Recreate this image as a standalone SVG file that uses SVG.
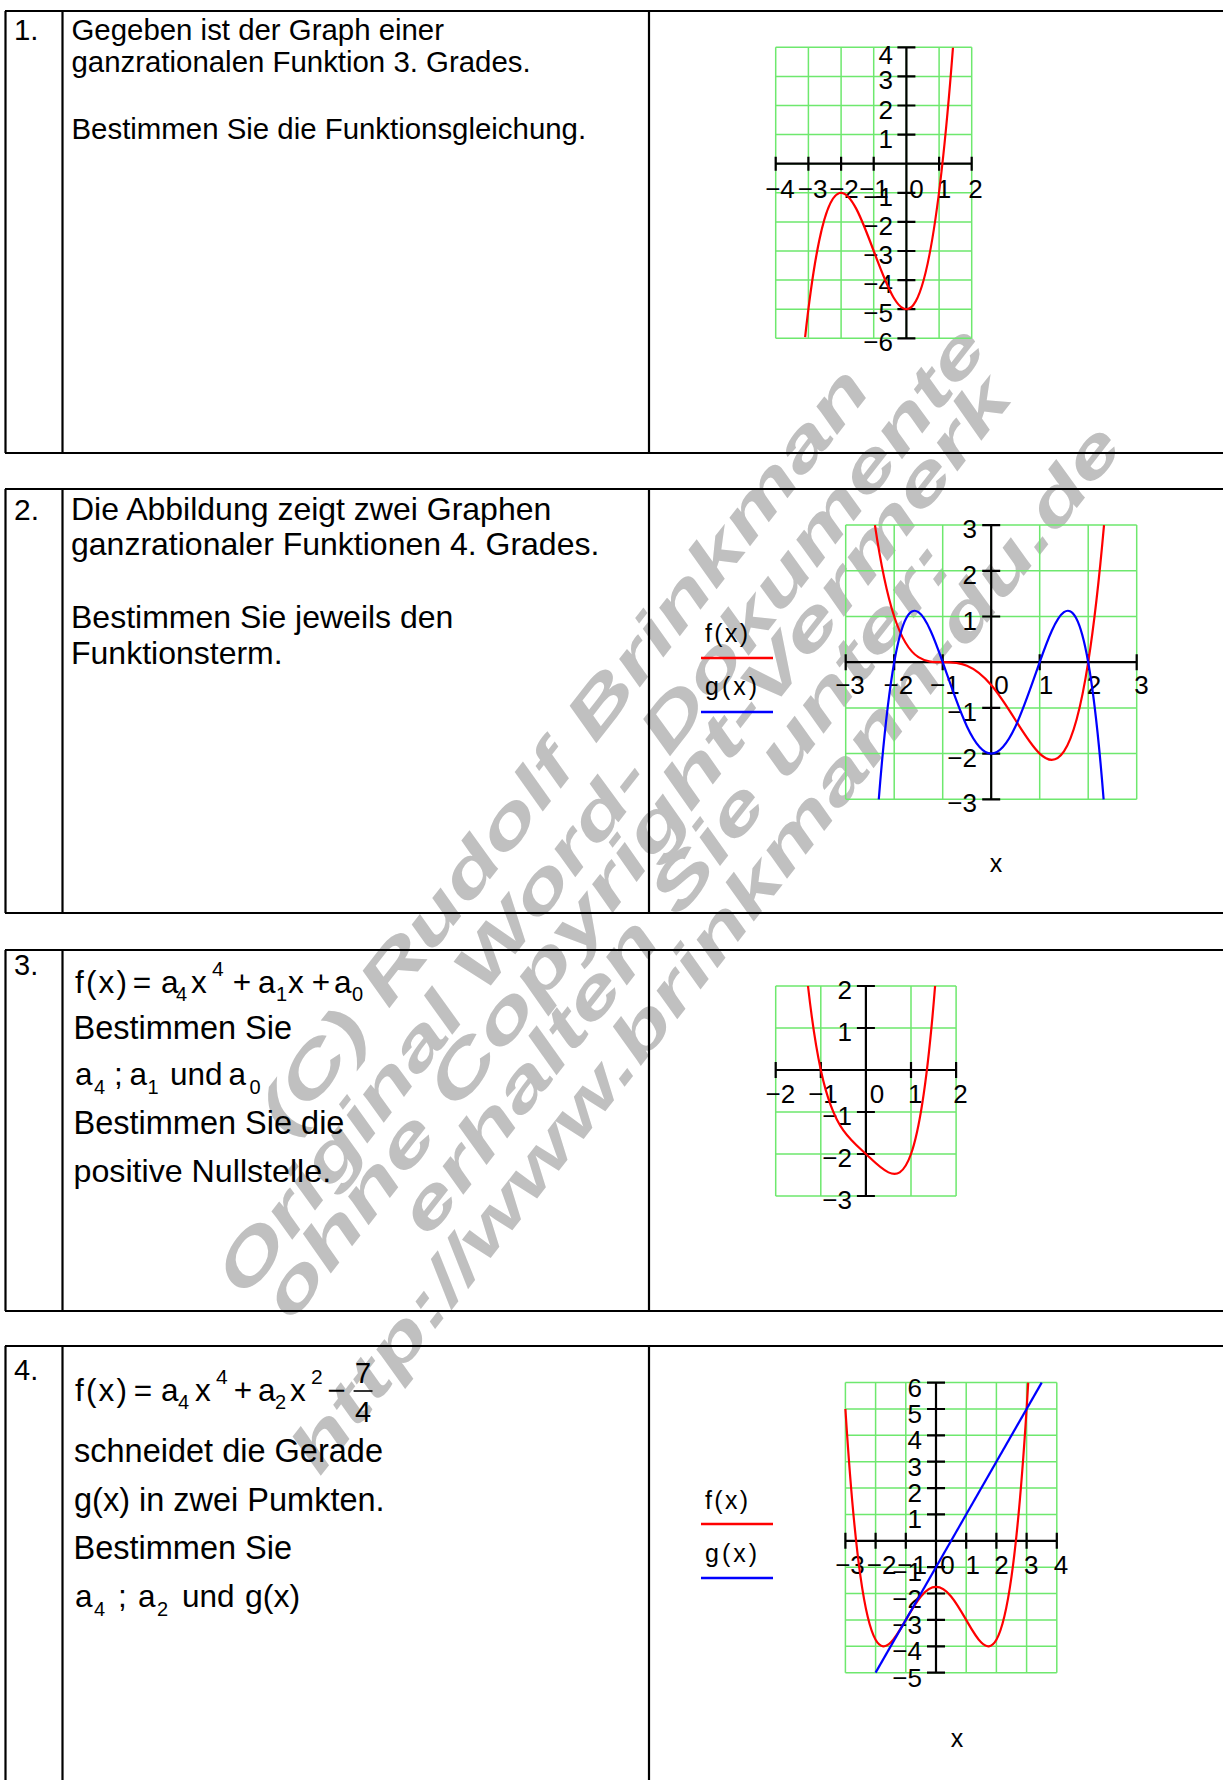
<svg xmlns="http://www.w3.org/2000/svg" width="1223" height="1780" viewBox="0 0 1223 1780">
<style>
.tx{font-family:'Liberation Sans',Arial,sans-serif;fill:#000}
.lb{font-family:'Liberation Sans',Arial,sans-serif;font-size:26px;fill:#000}
.ym{text-anchor:end}
.xm{text-anchor:middle}
.grid{fill:none;stroke:#6ee86e;stroke-width:1.5}
.axis{fill:none;stroke:#000;stroke-width:2.2}
.cr{fill:none;stroke:#f00;stroke-width:2.2;vector-effect:non-scaling-stroke}
.cb{fill:none;stroke:#00f;stroke-width:2.2;vector-effect:non-scaling-stroke}
.tbl{fill:none;stroke:#000;stroke-width:2.2}
.wm{font-family:'Liberation Sans',Arial,sans-serif;font-weight:bold;font-style:italic;font-size:64px;fill:#c0c0c0;text-anchor:middle}
</style>
<rect width="1223" height="1780" fill="#fff"/>

<g id="watermark" class="wm">
<text transform="translate(563 750) rotate(-52)" y="22" textLength="950" lengthAdjust="spacingAndGlyphs">(C) Rudolf Brinkman</text>
<text transform="translate(600 810) rotate(-52)" y="22" textLength="1208" lengthAdjust="spacingAndGlyphs">Original Word- Dokumente</text>
<text transform="translate(636 847) rotate(-52)" y="22" textLength="1174" lengthAdjust="spacingAndGlyphs">ohne Copyright-Vermerk</text>
<text transform="translate(675 888) rotate(-52)" y="22" textLength="856" lengthAdjust="spacingAndGlyphs">erhalten Sie unter:</text>
<text transform="translate(705 948) rotate(-52)" y="22" textLength="1308" lengthAdjust="spacingAndGlyphs">http://www.brinkmann-du.de</text>
</g>

<g id="table" class="tbl">
<path d="M5 11H1223M5 453H1223M5.5 11V453M62.5 11V453M649 11V453"/>
<path d="M5 489H1223M5 913H1223M5.5 489V913M62.5 489V913M649 489V913"/>
<path d="M5 950H1223M5 1311H1223M5.5 950V1311M62.5 950V1311M649 950V1311"/>
<path d="M5 1346H1223M5.5 1346V1780M62.5 1346V1780M649 1346V1780"/>
</g>

<g id="row1" class="tx" font-size="29.4">
<text x="14" y="40">1.</text>
<text x="71.5" y="40">Gegeben ist der Graph einer</text>
<text x="71.5" y="72">ganzrationalen Funktion 3. Grades.</text>
<text x="71.5" y="139">Bestimmen Sie die Funktionsgleichung.</text>
</g>

<g id="row2" class="tx" font-size="32">
<text x="14" y="520" font-size="30">2.</text>
<text x="71" y="520">Die Abbildung zeigt zwei Graphen</text>
<text x="71" y="555">ganzrationaler Funktionen 4. Grades.</text>
<text x="71" y="628">Bestimmen Sie jeweils den</text>
<text x="71" y="664">Funktionsterm.</text>
</g>

<g id="row3" class="tx" font-size="31.5">
<text x="14" y="975" font-size="29">3.</text>
<text x="75" y="993" textLength="52">f(x)</text>
<text x="142" y="993" class="xm">=</text>
<text x="161" y="993">a</text>
<text x="176" y="1001" font-size="20">4</text>
<text x="191" y="993">x</text>
<text x="212" y="976" font-size="21">4</text>
<text x="242" y="993" class="xm">+</text>
<text x="258" y="993">a</text>
<text x="276" y="1001" font-size="20">1</text>
<text x="288" y="993">x</text>
<text x="321" y="993" class="xm">+</text>
<text x="334" y="993">a</text>
<text x="352" y="1001" font-size="20">0</text>
<text x="73.5" y="1038.5" font-size="32.5">Bestimmen Sie</text>
<text x="75" y="1085">a</text>
<text x="94" y="1094" font-size="20">4</text>
<text x="114" y="1085">;</text>
<text x="129.5" y="1085">a</text>
<text x="147.5" y="1094" font-size="20">1</text>
<text x="170" y="1085">und</text>
<text x="228.5" y="1085">a</text>
<text x="249.5" y="1094" font-size="20">0</text>
<text x="73.5" y="1133.5" font-size="32.5">Bestimmen Sie die</text>
<text x="73.5" y="1181.5" font-size="32.2">positive Nullstelle.</text>
</g>

<g id="row4" class="tx" font-size="31.5">
<text x="14" y="1380" font-size="29">4.</text>
<text x="75" y="1401" textLength="52">f(x)</text>
<text x="143" y="1401" class="xm">=</text>
<text x="161" y="1401">a</text>
<text x="178" y="1409" font-size="20">4</text>
<text x="195" y="1401">x</text>
<text x="216" y="1384" font-size="21">4</text>
<text x="243" y="1401" class="xm">+</text>
<text x="258" y="1401">a</text>
<text x="275" y="1409" font-size="20">2</text>
<text x="290" y="1401">x</text>
<text x="311" y="1384" font-size="21">2</text>
<text x="336.5" y="1401" class="xm">−</text>
<path d="M353.6 1391H372.5" stroke="#000" stroke-width="1.6"/>
<text x="363" y="1383" class="xm" font-size="29">7</text>
<text x="363" y="1422" class="xm" font-size="29">4</text>
<text x="74" y="1462" font-size="32.5">schneidet die Gerade</text>
<text x="74" y="1510.5" font-size="32.5">g(x) in zwei Pumkten.</text>
<text x="73.5" y="1559" font-size="32.5">Bestimmen Sie</text>
<text x="75" y="1607">a</text>
<text x="94" y="1616" font-size="20">4</text>
<text x="118" y="1607">;</text>
<text x="138" y="1607">a</text>
<text x="157" y="1616" font-size="20">2</text>
<text x="182" y="1607">und</text>
<text x="245" y="1607" font-size="32">g(x)</text>
</g>

<g id="plot1">
<path class="grid" d="M775.7 47.3V338.3M808.4 47.3V338.3M841.1 47.3V338.3M873.7 47.3V338.3M906.4 47.3V338.3M939.1 47.3V338.3M971.7 47.3V338.3M775.7 47.3H971.7M775.7 76.4H971.7M775.7 105.5H971.7M775.7 134.6H971.7M775.7 163.7H971.7M775.7 192.8H971.7M775.7 221.9H971.7M775.7 251H971.7M775.7 280.1H971.7M775.7 309.2H971.7M775.7 338.3H971.7"/>
<path class="axis" d="M775.7 163.7H971.7M906.4 47.3V338.3M775.7 156.7V170.7M808.4 156.7V170.7M841.1 156.7V170.7M873.7 156.7V170.7M939.1 156.7V170.7M971.7 156.7V170.7M897.4 47.3H915.4M897.4 76.4H915.4M897.4 105.5H915.4M897.4 134.6H915.4M897.4 163.7H915.4M897.4 192.8H915.4M897.4 221.9H915.4M897.4 251H915.4M897.4 280.1H915.4M897.4 309.2H915.4M897.4 338.3H915.4"/>
<g class="lb xm">
<text x="780" y="198">−4</text><text x="812.6" y="198">−3</text><text x="844" y="198">−2</text><text x="874" y="198">−1</text><text x="916.6" y="198">0</text><text x="944" y="198">1</text><text x="975.5" y="198">2</text>
</g>
<g class="lb ym">
<text x="893" y="64">4</text><text x="893" y="89.4">3</text><text x="893" y="118.5">2</text><text x="893" y="147.6">1</text><text x="893" y="205.8">−1</text><text x="893" y="234.9">−2</text><text x="893" y="264">−3</text><text x="893" y="293.1">−4</text><text x="893" y="322.2">−5</text><text x="893" y="351.3">−6</text>
</g>
<g transform="translate(906.4 163.7) scale(32.67 -29.1)">
<path class="cr" d="M-3.1 -5.961C-1.5917 9.469 -0.0833 -18.099 1.425 3.9856"/>
</g>
</g>

<g id="plot2">
<path class="grid" d="M845.7 525.1V799.3M894.2 525.1V799.3M942.7 525.1V799.3M991.2 525.1V799.3M1039.7 525.1V799.3M1088.2 525.1V799.3M1136.7 525.1V799.3M845.7 525.1H1136.7M845.7 570.8H1136.7M845.7 616.5H1136.7M845.7 662.2H1136.7M845.7 707.9H1136.7M845.7 753.6H1136.7M845.7 799.3H1136.7"/>
<path class="axis" d="M845.7 662.2H1136.7M991.2 525.1V799.3M845.7 654.2V670.2M894.2 654.2V670.2M942.7 654.2V670.2M1039.7 654.2V670.2M1088.2 654.2V670.2M1136.7 654.2V670.2M982.2 525.1H1000.2M982.2 570.8H1000.2M982.2 616.5H1000.2M982.2 662.2H1000.2M982.2 707.9H1000.2M982.2 753.6H1000.2M982.2 799.3H1000.2"/>
<g class="lb xm">
<text x="850" y="694">−3</text><text x="898.3" y="694">−2</text><text x="944.9" y="694">−1</text><text x="1001.5" y="694">0</text><text x="1045.9" y="694">1</text><text x="1094" y="694">2</text><text x="1141.5" y="694">3</text>
</g>
<g class="lb ym">
<text x="977" y="538">3</text><text x="977" y="583.8">2</text><text x="977" y="629.5">1</text><text x="977" y="720.9">−1</text><text x="977" y="766.6">−2</text><text x="977" y="812.3">−3</text>
</g>
<g transform="translate(991.2 662.2) scale(48.5 -45.7)">
<path class="cr" d="M-2.3975 3C-2.265 2.056 -2.1325 1.431 -2 1C-1.8333 0.4583 -1.6667 0.224 -1.5 0.1094C-1.3333 -0.0052 -1.1667 0 -1 0C-0.8333 0 -0.6667 -0.0052 -0.5 -0.0781C-0.3333 -0.151 -0.1667 -0.2917 0 -0.5C0.1667 -0.7083 0.3333 -0.9844 0.5 -1.2656C0.6667 -1.5469 0.8333 -1.8333 1 -2C1.1667 -2.1667 1.3333 -2.2135 1.5 -1.9531C1.6667 -1.6927 1.8333 -1.125 2 0C2.1087 0.7337 2.2174 1.706 2.3261 3"/>
<path class="cb" d="M-2.318 -3C-2.212 -1.588 -2.106 -0.636 -2 0C-1.8333 1 -1.6667 1.219 -1.5 1.094C-1.3333 0.969 -1.1667 0.5 -1 0C-0.8333 -0.5 -0.6667 -1.031 -0.5 -1.406C-0.3333 -1.781 -0.1667 -2 0 -2C0.1667 -2 0.3333 -1.781 0.5 -1.406C0.6667 -1.031 0.8333 -0.5 1 0C1.1667 0.5 1.3333 0.969 1.5 1.094C1.6667 1.219 1.8333 1 2 0C2.106 -0.636 2.212 -1.588 2.318 -3"/>
</g>
<text class="tx" x="705" y="642" font-size="25" textLength="43">f(x)</text>
<path d="M701 658H773" stroke="#f00" stroke-width="2.5"/>
<text class="tx" x="705" y="695" font-size="25" textLength="52">g(x)</text>
<path d="M701 712H773" stroke="#00f" stroke-width="2.5"/>
<text class="tx xm" x="996" y="872" font-size="25">x</text>
</g>

<g id="plot3">
<path class="grid" d="M775.7 986V1196M820.8 986V1196M865.9 986V1196M911 986V1196M956.1 986V1196M775.7 986H956.1M775.7 1028H956.1M775.7 1070H956.1M775.7 1112H956.1M775.7 1154H956.1M775.7 1196H956.1"/>
<path class="axis" d="M775.7 1070H956.1M865.9 986V1196M775.7 1062V1078M820.8 1062V1078M911 1062V1078M956.1 1062V1078M856.9 986H874.9M856.9 1028H874.9M856.9 1070H874.9M856.9 1112H874.9M856.9 1154H874.9M856.9 1196H874.9"/>
<g class="lb xm">
<text x="780.4" y="1103">−2</text><text x="823" y="1103">−1</text><text x="877" y="1103">0</text><text x="915.2" y="1103">1</text><text x="960.5" y="1103">2</text>
</g>
<g class="lb ym">
<text x="852" y="999">2</text><text x="852" y="1041">1</text><text x="852" y="1125">−1</text><text x="852" y="1167">−2</text><text x="852" y="1209">−3</text>
</g>
<g transform="translate(865.9 1070) scale(45.1 -42)">
<path class="cr" d="M-1.284 2C-1.1893 1.1037 -1.0947 0.4733 -1 0C-0.8333 -0.8333 -0.6667 -1.1875 -0.5 -1.4375C-0.3333 -1.6875 -0.1667 -1.8333 0 -2C0.1667 -2.1667 0.3333 -2.3542 0.5 -2.4375C0.6667 -2.5208 0.8333 -2.5 1 -2C1.178 -1.466 1.356 -0.392 1.534 2"/>
</g>
</g>

<g id="plot4">
<path class="grid" d="M845.4 1382.6V1672.7M875.6 1382.6V1672.7M905.8 1382.6V1672.7M936 1382.6V1672.7M966.2 1382.6V1672.7M996.4 1382.6V1672.7M1026.6 1382.6V1672.7M1056.8 1382.6V1672.7M845.4 1382.6H1056.8M845.4 1409H1056.8M845.4 1435.3H1056.8M845.4 1461.7H1056.8M845.4 1488.1H1056.8M845.4 1514.4H1056.8M845.4 1540.8H1056.8M845.4 1567.2H1056.8M845.4 1593.5H1056.8M845.4 1619.9H1056.8M845.4 1646.3H1056.8M845.4 1672.7H1056.8"/>
<path class="axis" d="M845.4 1540.8H1056.8M936 1382.6V1672.7M845.4 1532.8V1548.8M875.6 1532.8V1548.8M905.8 1532.8V1548.8M966.2 1532.8V1548.8M996.4 1532.8V1548.8M1026.6 1532.8V1548.8M1056.8 1532.8V1548.8M927 1382.6H945M927 1409H945M927 1435.3H945M927 1461.7H945M927 1488.1H945M927 1514.4H945M927 1540.8H945M927 1567.2H945M927 1593.5H945M927 1619.9H945M927 1646.3H945M927 1672.7H945"/>
<g class="lb xm">
<text x="850" y="1574">−3</text><text x="881.7" y="1574">−2</text><text x="912.2" y="1574">−1</text><text x="947.5" y="1574">0</text><text x="972.8" y="1574">1</text><text x="1001.5" y="1574">2</text><text x="1031.3" y="1574">3</text><text x="1061.1" y="1574">4</text>
</g>
<g class="lb ym">
<text x="922" y="1396.6">6</text><text x="922" y="1423">5</text><text x="922" y="1449.3">4</text><text x="922" y="1475.7">3</text><text x="922" y="1502">2</text><text x="922" y="1528.4">1</text><text x="922" y="1581.2">−1</text><text x="922" y="1607.5">−2</text><text x="922" y="1633.9">−3</text><text x="922" y="1660.3">−4</text><text x="922" y="1686.7">−5</text>
</g>
<g transform="translate(936 1540.8) scale(30.2 -26.37)">
<path class="cr" d="M-3 5C-2.8333 2 -2.6667 -0.0052 -2.5 -1.3594C-2.3333 -2.7136 -2.1667 -3.4167 -2 -3.75C-1.8333 -4.0833 -1.6667 -4.0469 -1.5 -3.8594C-1.3333 -3.6719 -1.1667 -3.3333 -1 -3C-0.8333 -2.6667 -0.6667 -2.3386 -0.5 -2.1094C-0.3333 -1.8802 -0.1667 -1.75 0 -1.75C0.1667 -1.75 0.3333 -1.8802 0.5 -2.1094C0.6667 -2.3386 0.8333 -2.6667 1 -3C1.1667 -3.3333 1.3333 -3.6719 1.5 -3.8594C1.6667 -4.0469 1.8333 -4.0833 2 -3.75C2.1667 -3.4167 2.3333 -2.7136 2.5 -1.3594C2.6667 -0.0052 2.8333 2 3 5C3.0179 5.322 3.0358 5.6543 3.0537 6"/>
<path class="cb" d="M-2 -5L3.5 6"/>
</g>
<text class="tx" x="705" y="1509" font-size="25" textLength="43">f(x)</text>
<path d="M701 1524H773" stroke="#f00" stroke-width="2.5"/>
<text class="tx" x="705" y="1562" font-size="25" textLength="52">g(x)</text>
<path d="M701 1578H773" stroke="#00f" stroke-width="2.5"/>
<text class="tx xm" x="957" y="1747" font-size="25">x</text>
</g>

<g id="connectors"/>
</svg>
